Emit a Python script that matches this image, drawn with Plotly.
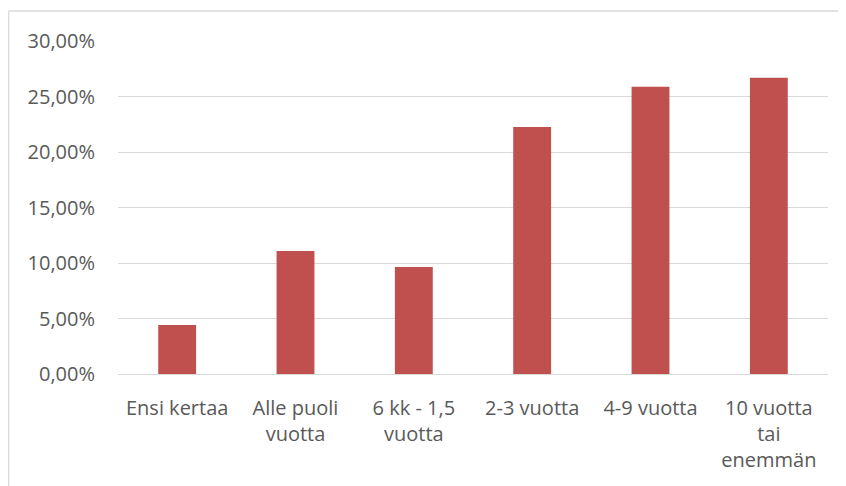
import plotly.graph_objects as go

categories = [
    "Ensi kertaa",
    "Alle puoli<br>vuotta",
    "6 kk - 1,5<br>vuotta",
    "2-3 vuotta",
    "4-9 vuotta",
    "10 vuotta<br>tai<br>enemmän",
]
shares = [0.0441, 0.1108, 0.0964, 0.2225, 0.2587, 0.2668]

tick_vals = [0, 0.05, 0.10, 0.15, 0.20, 0.25, 0.30]
tick_text = ["0,00%", "5,00%", "10,00%", "15,00%", "20,00%", "25,00%", "30,00%"]

W, H = 846, 486
L, R, T, B = 110, 26, 33, 120

fig = go.Figure(
    go.Bar(
        x=categories,
        y=shares,
        marker=dict(color="#C0504D", line=dict(width=0)),
        hoverinfo="x+y",
    )
)

fig.update_layout(
    width=W,
    height=H,
    margin=dict(l=L, r=R, t=T, b=B),
    plot_bgcolor="white",
    paper_bgcolor="white",
    bargap=0.68,
    showlegend=False,
    font=dict(family="Open Sans, sans-serif", size=18, color="#595959"),
)

fig.update_yaxes(
    range=[0, 0.30],
    tickvals=tick_vals,
    ticktext=tick_text,
    showgrid=True,
    gridcolor="#D9D9D9",
    gridwidth=1,
    zeroline=False,
    showline=False,
    ticks="",
    ticklabelstandoff=22,
    tickfont=dict(size=20),
)

fig.update_xaxes(
    showgrid=False,
    showline=True,
    linecolor="#D9D9D9",
    linewidth=1,
    ticks="",
    tickangle=0,
    tickfont=dict(size=20),
    ticklabelstandoff=16,
)

# chart-area frame, cropped at the right and bottom edges
pw, ph = W - L - R, H - T - B
fx = (0.5 - L) / pw
fy = (H - B - 3) / ph
fig.add_shape(type="line", xref="paper", yref="paper",
              x0=fx, x1=(W - L) / pw, y0=fy, y1=fy,
              line=dict(color="#D9D9D9", width=1.5))
fig.add_shape(type="line", xref="paper", yref="paper",
              x0=fx, x1=fx, y0=fy, y1=-B / ph,
              line=dict(color="#D9D9D9", width=1.5))

fig.write_html("out.html")
